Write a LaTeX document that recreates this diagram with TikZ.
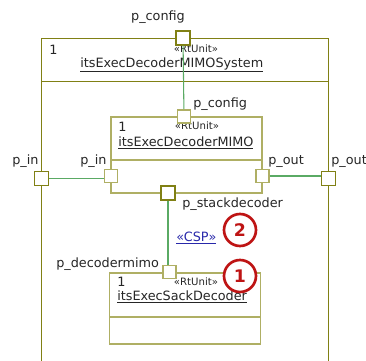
\documentclass[tikz,border=0pt]{standalone}
\usepackage{fontspec}
\setmainfont{DejaVu Sans}
\definecolor{olivedk}{RGB}{128,128,20}
\definecolor{khaki}{RGB}{175,175,100}
\definecolor{wire}{RGB}{90,170,100}
\definecolor{badge}{RGB}{190,20,20}
\definecolor{csp}{RGB}{40,40,170}
\tikzset{
  lbl/.style={font=\fontsize{9.6pt}{10pt}\selectfont, inner sep=0pt, text=black!85},
  stereo/.style={font=\fontsize{7.6pt}{8pt}\selectfont, inner sep=0pt, text=black!85},
  portbox/.style={draw=#1, fill=white, line width=0.8pt, minimum width=10.5pt, minimum height=10.5pt, inner sep=0pt},
  kport/.style={draw=khaki, fill=white, line width=1.2pt, minimum width=10pt, minimum height=10pt, inner sep=0pt},
  wireline/.style={draw=wire, line width=0.8pt},
  mark1/.style={circle, draw=badge, fill=white, line width=2pt, minimum size=24pt, inner sep=0pt, text=badge, font=\bfseries\fontsize{13pt}{13pt}\selectfont},
}
\begin{document}
\begin{tikzpicture}[x=0.75pt,y=-0.75pt]
\useasboundingbox (0,0) rectangle (366,360);
% outer part
\draw[olivedk, line width=0.75pt] (41.5,362) -- (41.5,38.5) -- (328.5,38.5) -- (328.5,362);
\draw[olivedk, line width=0.75pt] (41.5,81.5) -- (328.5,81.5);
\node[lbl, anchor=base west] (o1) at (49,55) {1};
\node[stereo, anchor=base] (ost) at (196,52) {«RtUnit»};
\node[lbl, anchor=base west] (oname) at (80,67) {\underline{itsExecDecoderMIMOSystem}};
% inner MIMO
\draw[khaki, line width=1.3pt, fill=white] (111,117) rectangle (262,193);
\draw[khaki, line width=1.3pt] (111,160) -- (262,160);
\node[lbl, anchor=base west] (i1) at (118,131) {1};
\node[stereo, anchor=base] (ist) at (197,129) {«RtUnit»};
\node[lbl, anchor=base west] (iname) at (118,146) {\underline{itsExecDecoderMIMO}};
% sack decoder
\draw[khaki, line width=1.3pt, fill=white] (109.5,273) rectangle (260.5,344);
\draw[khaki, line width=1.3pt] (109.5,317) -- (260.5,317);
\node[lbl, anchor=base west] (s1) at (117,286) {1};
\node[stereo, anchor=base] (sst) at (196,285) {«RtUnit»};
\node[lbl, anchor=base west] (sname) at (117,300) {\underline{itsExecSackDecoder}};
% ports
\node[portbox=olivedk] (pcfgO) at (183,38) {};
\node[kport] (pcfgI) at (184,116.5) {};
\node[portbox=olivedk] (pinO) at (41.5,178.5) {};
\node[kport] (pinI) at (111,176) {};
\node[kport] (poutI) at (262.5,176) {};
\node[portbox=olivedk] (poutO) at (328.5,178.5) {};
\node[portbox=olivedk] (pstack) at (168,193) {};
\node[kport] (pdec) at (169.5,272) {};
% wires
\draw[wireline] (pcfgO) -- (pcfgI);
\draw[wireline] (pinO.east) -- (pinO.east -| pinI.west);
\draw[wireline] (poutI.east) -- (poutI.east -| poutO.west);
\draw[wireline] (pstack.south) -- (pstack.south |- pdec.north);
% port labels
\node[lbl, anchor=base] (tcfgO) at (158,21) {p\_config};
\node[lbl, anchor=base west] (tcfgI) at (193,107) {p\_config};
\node[lbl, anchor=base west] (tinO) at (12,164) {p\_in};
\node[lbl, anchor=base west] (tinI) at (80,164) {p\_in};
\node[lbl, anchor=base west] (toutI) at (268,164) {p\_out};
\node[lbl, anchor=base west] (toutO) at (331,164) {p\_out};
\node[lbl, anchor=base west] (tstack) at (182,207) {p\_stackdecoder};
\node[lbl, anchor=base west] (tdec) at (56,267) {p\_decodermimo};
% CSP
\node[lbl, anchor=base west, text=csp] (csp) at (176,241) {\underline{«CSP»}};
% badges
\node[mark1] (b2) at (240,230) {2};
\node[mark1] (b1) at (240,276) {1};
\end{tikzpicture}
\end{document}
